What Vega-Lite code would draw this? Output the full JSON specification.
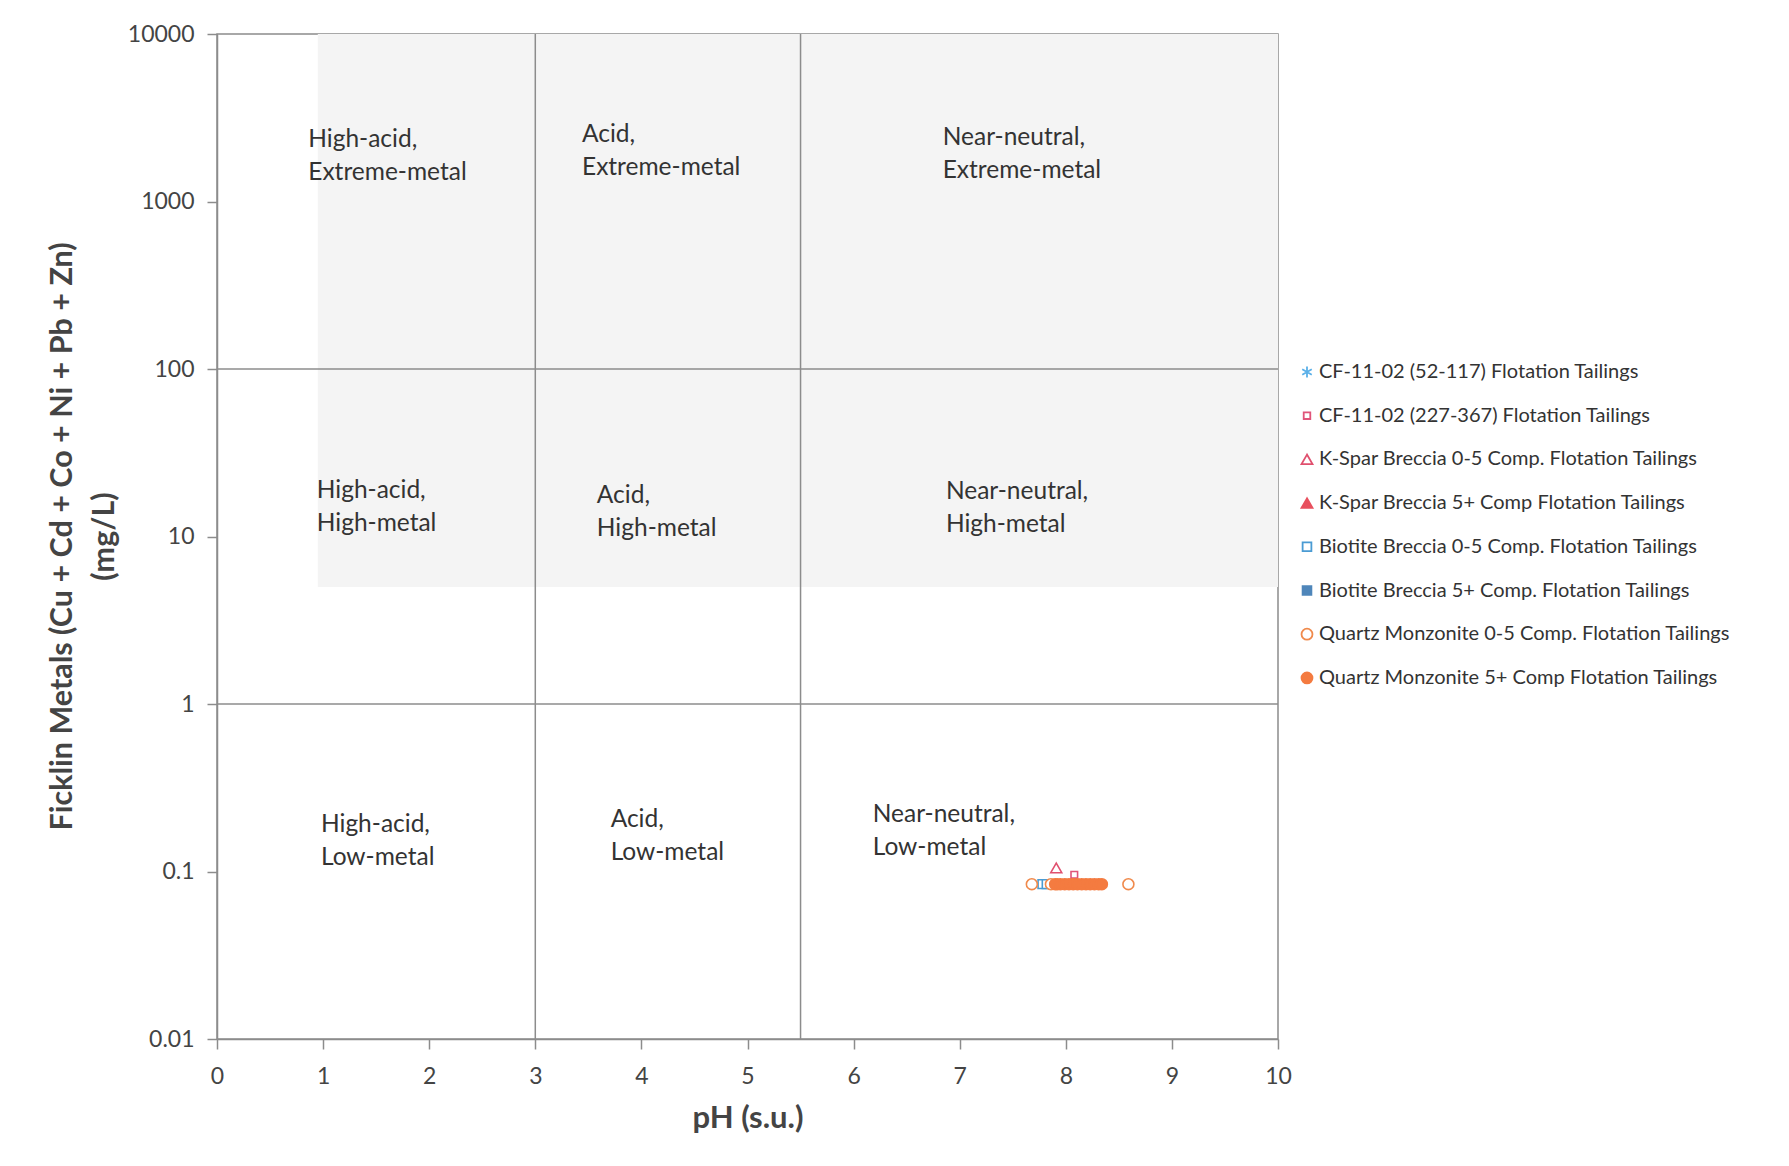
{
  "$schema": "https://vega.github.io/schema/vega-lite/v6.json",
  "autosize": {"type": "none"},
  "padding": {"left": 217, "top": 34, "right": 511, "bottom": 127},
  "width": 1061,
  "height": 1005,
  "background": "white",
  "config": {
    "view": {"stroke": "#8c8c8c", "strokeWidth": 1.5},
    "font": "Lato"
  },
  "datasets": {
    "shade": [{"ph": 0.95, "ph2": 10, "metal": 5, "metal2": 10000}],
    "vlines": [{"ph": 3}, {"ph": 5.5}],
    "hlines": [{"metal": 1}, {"metal": 100}],
    "labels": [
      {"ph": 0.86, "metal": 2750, "label": "High-acid,\nExtreme-metal"},
      {"ph": 3.44, "metal": 2940, "label": "Acid,\nExtreme-metal"},
      {"ph": 6.84, "metal": 2820, "label": "Near-neutral,\nExtreme-metal"},
      {"ph": 0.94, "metal": 22.0, "label": "High-acid,\nHigh-metal"},
      {"ph": 3.58, "metal": 20.6, "label": "Acid,\nHigh-metal"},
      {"ph": 6.87, "metal": 21.7, "label": "Near-neutral,\nHigh-metal"},
      {"ph": 0.98, "metal": 0.223, "label": "High-acid,\nLow-metal"},
      {"ph": 3.71, "metal": 0.239, "label": "Acid,\nLow-metal"},
      {"ph": 6.18, "metal": 0.256, "label": "Near-neutral,\nLow-metal"}
    ],
    "points": [
      {"series": "CF-11-02 (52-117) Flotation Tailings", "ph": 8.0, "metal": 0.084},
      {"series": "CF-11-02 (227-367) Flotation Tailings", "ph": 8.08, "metal": 0.0955},
      {"series": "K-Spar Breccia 0-5 Comp. Flotation Tailings", "ph": 7.91, "metal": 0.105},
      {"series": "K-Spar Breccia 5+ Comp Flotation Tailings", "ph": 8.05, "metal": 0.084},
      {"series": "Biotite Breccia 0-5 Comp. Flotation Tailings", "ph": 7.78, "metal": 0.084},
      {"series": "Biotite Breccia 0-5 Comp. Flotation Tailings", "ph": 7.82, "metal": 0.084},
      {"series": "Biotite Breccia 5+ Comp. Flotation Tailings", "ph": 7.9, "metal": 0.084},
      {"series": "Quartz Monzonite 0-5 Comp. Flotation Tailings", "ph": 7.68, "metal": 0.084},
      {"series": "Quartz Monzonite 0-5 Comp. Flotation Tailings", "ph": 7.86, "metal": 0.084},
      {"series": "Quartz Monzonite 0-5 Comp. Flotation Tailings", "ph": 7.92, "metal": 0.084},
      {"series": "Quartz Monzonite 0-5 Comp. Flotation Tailings", "ph": 8.59, "metal": 0.084},
      {"series": "Quartz Monzonite 5+ Comp Flotation Tailings", "ph": 7.9, "metal": 0.084},
      {"series": "Quartz Monzonite 5+ Comp Flotation Tailings", "ph": 7.95, "metal": 0.084},
      {"series": "Quartz Monzonite 5+ Comp Flotation Tailings", "ph": 7.99, "metal": 0.084},
      {"series": "Quartz Monzonite 5+ Comp Flotation Tailings", "ph": 8.03, "metal": 0.084},
      {"series": "Quartz Monzonite 5+ Comp Flotation Tailings", "ph": 8.07, "metal": 0.084},
      {"series": "Quartz Monzonite 5+ Comp Flotation Tailings", "ph": 8.11, "metal": 0.084},
      {"series": "Quartz Monzonite 5+ Comp Flotation Tailings", "ph": 8.15, "metal": 0.084},
      {"series": "Quartz Monzonite 5+ Comp Flotation Tailings", "ph": 8.19, "metal": 0.084},
      {"series": "Quartz Monzonite 5+ Comp Flotation Tailings", "ph": 8.23, "metal": 0.084},
      {"series": "Quartz Monzonite 5+ Comp Flotation Tailings", "ph": 8.27, "metal": 0.084},
      {"series": "Quartz Monzonite 5+ Comp Flotation Tailings", "ph": 8.31, "metal": 0.084},
      {"series": "Quartz Monzonite 5+ Comp Flotation Tailings", "ph": 8.34, "metal": 0.084}
    ]
  },
  "layer": [
    {
      "data": {"name": "shade"},
      "mark": {"type": "rect", "fill": "#f4f4f4"},
      "encoding": {
        "x": {
          "field": "ph", "type": "quantitative",
          "scale": {"domain": [0, 10], "nice": false, "zero": false},
          "axis": {
            "values": [0, 1, 2, 3, 4, 5, 6, 7, 8, 9, 10],
            "format": "d",
            "labelFlush": false,
            "grid": false,
            "tickSize": 10, "tickColor": "#8c8c8c", "tickWidth": 1.5,
            "domainColor": "#8c8c8c", "domainWidth": 1.5,
            "labelFontSize": 23, "labelColor": "#444444", "labelPadding": 16,
            "labelFont": "Lato",
            "title": "pH (s.u.)",
            "titleFontSize": 31, "titleFontWeight": "bold", "titleColor": "#444444",
            "titleFont": "Lato",
            "titleBaseline": "middle", "titleY": 79
          }
        },
        "x2": {"field": "ph2"},
        "y": {
          "field": "metal", "type": "quantitative",
          "scale": {"type": "log", "domain": [0.01, 10000], "nice": false},
          "axis": {
            "values": [0.01, 0.1, 1, 10, 100, 1000, 10000],
            "labelExpr": "'' + datum.value",
            "grid": false,
            "tickSize": 10, "tickColor": "#8c8c8c", "tickWidth": 1.5,
            "domainColor": "#8c8c8c", "domainWidth": 1.5,
            "labelFontSize": 23, "labelColor": "#444444", "labelPadding": 13,
            "labelFont": "Lato",
            "title": ["Ficklin Metals (Cu + Cd + Co + Ni + Pb + Zn)", "(mg/L)"],
            "titleFontSize": 30.5, "titleFontWeight": "bold", "titleColor": "#444444",
            "titleFont": "Lato",
            "titleAngle": -90, "titleBaseline": "top", "titleAlign": "center",
            "titleLineHeight": 42, "titleX": -170, "titleY": 502
          }
        },
        "y2": {"field": "metal2"}
      }
    },
    {
      "data": {"name": "vlines"},
      "mark": {"type": "rule", "color": "#8c8c8c", "strokeWidth": 1.5},
      "encoding": {"x": {"field": "ph", "type": "quantitative"}}
    },
    {
      "data": {"name": "hlines"},
      "mark": {"type": "rule", "color": "#8c8c8c", "strokeWidth": 1.5},
      "encoding": {"y": {"field": "metal", "type": "quantitative"}}
    },
    {
      "data": {"name": "labels"},
      "mark": {"type": "text", "align": "left", "baseline": "top", "lineBreak": "\n", "lineHeight": 33, "fontSize": 24.5, "font": "Lato", "color": "#333333"},
      "encoding": {
        "x": {"field": "ph", "type": "quantitative"},
        "y": {"field": "metal", "type": "quantitative"},
        "text": {"field": "label"}
      }
    },
    {
      "data": {"name": "points"},
      "mark": {"type": "point", "size": 120, "strokeWidth": 1.6, "opacity": 1},
      "encoding": {
        "x": {"field": "ph", "type": "quantitative"},
        "y": {"field": "metal", "type": "quantitative"},
        "shape": {
          "field": "series", "type": "nominal",
          "scale": {
            "domain": ["CF-11-02 (52-117) Flotation Tailings", "CF-11-02 (227-367) Flotation Tailings", "K-Spar Breccia 0-5 Comp. Flotation Tailings", "K-Spar Breccia 5+ Comp Flotation Tailings", "Biotite Breccia 0-5 Comp. Flotation Tailings", "Biotite Breccia 5+ Comp. Flotation Tailings", "Quartz Monzonite 0-5 Comp. Flotation Tailings", "Quartz Monzonite 5+ Comp Flotation Tailings"],
            "range": ["M0,-1V1M-0.87,-0.5L0.87,0.5M-0.87,0.5L0.87,-0.5", "M-0.6,-0.6H0.6V0.6H-0.6Z", "triangle-up", "triangle-up", "M-0.8,-0.8H0.8V0.8H-0.8Z", "M-0.8,-0.8H0.8V0.8H-0.8Z", "circle", "circle"]
          },
          "legend": {
            "title": null,
            "orient": "none", "legendX": 1080, "legendY": 328,
            "labelFontSize": 20, "labelFont": "Lato", "labelColor": "#333333",
            "labelOffset": 2, "rowPadding": 23.7, "padding": 0,
            "symbolSize": 120, "symbolStrokeWidth": 1.8, "labelLimit": 0
          }
        },
        "stroke": {
          "field": "series", "type": "nominal",
          "scale": {
            "domain": ["CF-11-02 (52-117) Flotation Tailings", "CF-11-02 (227-367) Flotation Tailings", "K-Spar Breccia 0-5 Comp. Flotation Tailings", "K-Spar Breccia 5+ Comp Flotation Tailings", "Biotite Breccia 0-5 Comp. Flotation Tailings", "Biotite Breccia 5+ Comp. Flotation Tailings", "Quartz Monzonite 0-5 Comp. Flotation Tailings", "Quartz Monzonite 5+ Comp Flotation Tailings"],
            "range": ["#5bb0e8", "#e0557a", "#e0506e", "#e8505e", "#4a9bd3", "#4f86ba", "#f08a4c", "#f47b40"]
          }
        },
        "fill": {
          "field": "series", "type": "nominal",
          "scale": {
            "domain": ["CF-11-02 (52-117) Flotation Tailings", "CF-11-02 (227-367) Flotation Tailings", "K-Spar Breccia 0-5 Comp. Flotation Tailings", "K-Spar Breccia 5+ Comp Flotation Tailings", "Biotite Breccia 0-5 Comp. Flotation Tailings", "Biotite Breccia 5+ Comp. Flotation Tailings", "Quartz Monzonite 0-5 Comp. Flotation Tailings", "Quartz Monzonite 5+ Comp Flotation Tailings"],
            "range": ["transparent", "white", "white", "#e8505e", "white", "#4f86ba", "white", "#f47b40"]
          }
        }
      }
    }
  ]
}
